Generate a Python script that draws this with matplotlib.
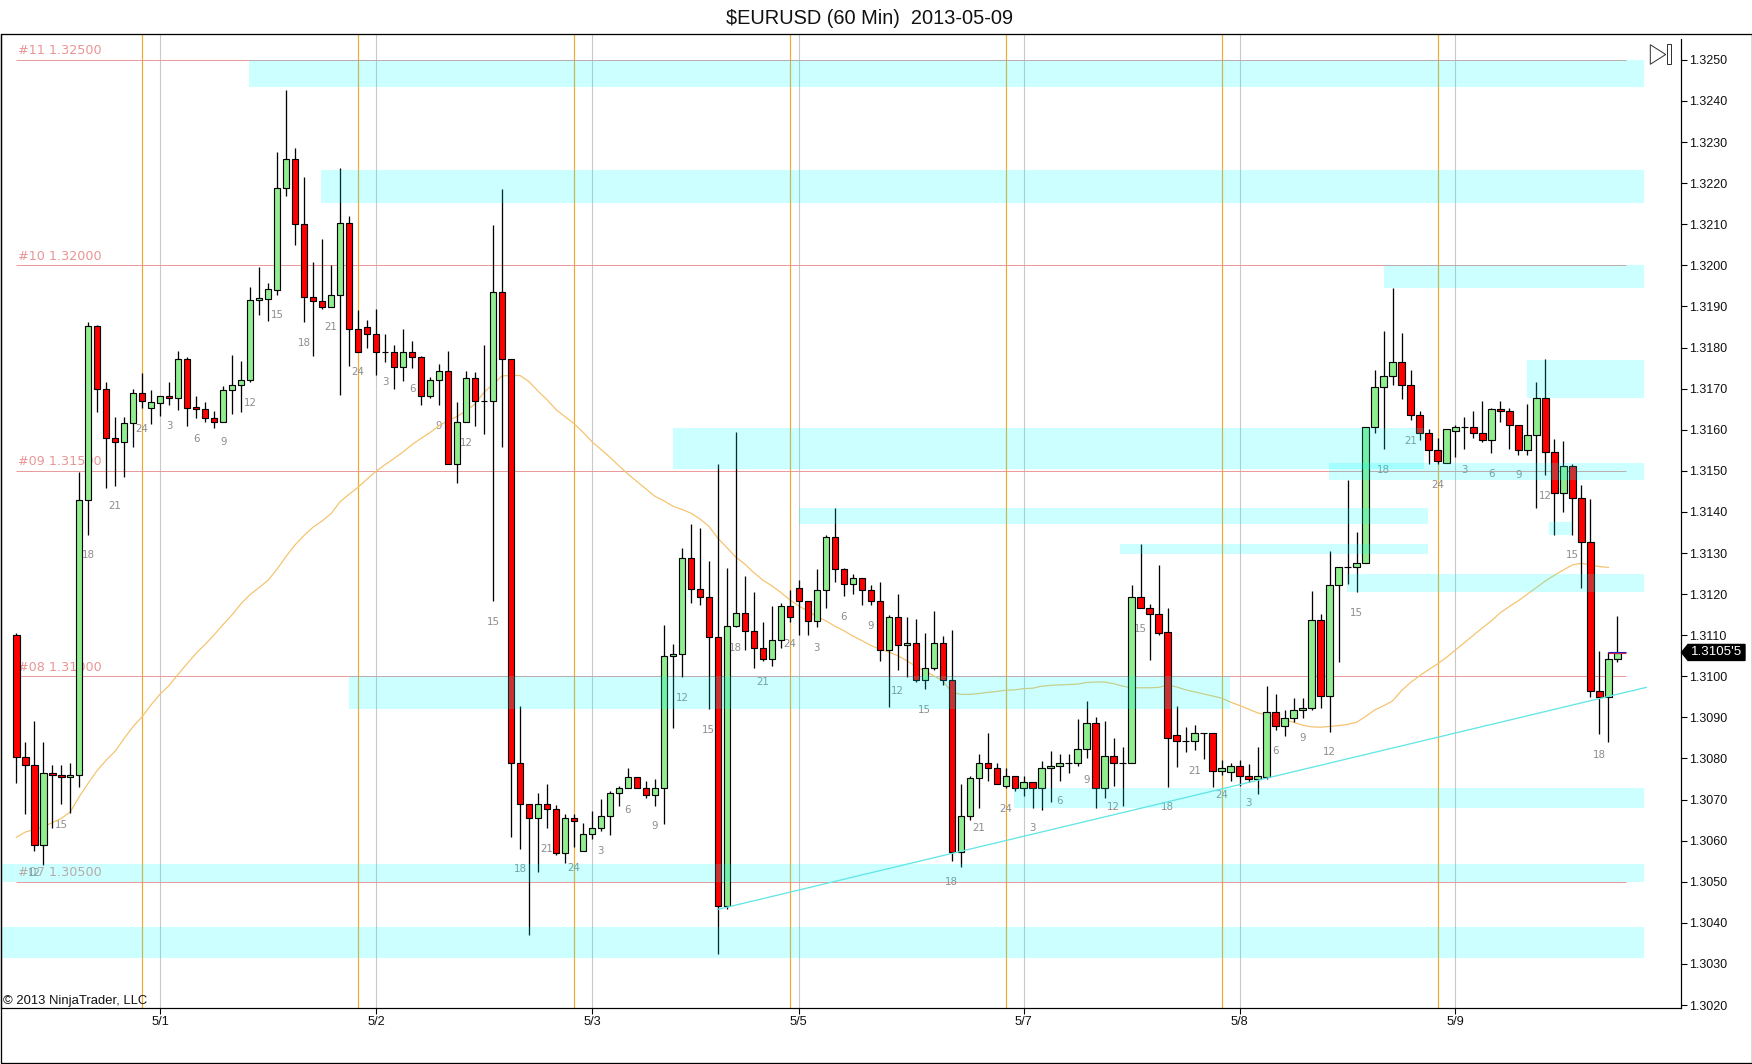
"""
$EURUSD 60 min candle chart, NinjaTrader look.
All prices are kept as pips above 1.3000 and converted with to_price().
"""

import numpy as np
import matplotlib
matplotlib.use("Agg")
import matplotlib.pyplot as plt
from matplotlib.patches import Polygon, Rectangle
from matplotlib.transforms import blended_transform_factory

plt.rcParams["font.family"] = ["Liberation Sans", "DejaVu Sans"]

# ─────────────────────────────────────────────
# DATA
# ─────────────────────────────────────────────
opens = [
    110.1, 80.4, 78.4, 58.9, 76.5, 76.1, 75.6, 76, 143, 185.2,
    170, 158.1, 157, 161.6, 169, 165.4, 166.6, 168.1, 167.6, 177.1,
    165.5, 165, 162.9, 162, 169.6, 171, 172, 191.5, 191.9, 194.1,
    218.9, 226, 210, 192.4, 191.4, 189.9, 192.9, 210.4, 184.6, 185.1,
    183.4, 179, 179, 175.2, 179, 177.6, 168.1, 172, 174.4, 151.6,
    162, 172.5, 167.1, 167.1, 193.4, 177.1, 79, 69, 65.6, 69,
    67.6, 57, 65.6, 57.5, 61.5, 63.2, 66.1, 71.5, 72.7, 75.6,
    72.7, 71, 72.7, 105, 105.5, 128.7, 121.2, 119.2, 109.6, 44.1,
    112.2, 115.5, 111.1, 107, 104.1, 108.9, 117, 121.6, 118.4, 113.5,
    121.1, 134, 126, 122.5, 124, 121.1, 118.4, 106.5, 114.5, 107.5,
    108, 99, 102.1, 108, 99, 57.2, 66.1, 75.2, 79, 77.6,
    73.2, 75.7, 72.7, 74.2, 72.7, 77.6, 78.1, 79, 79, 82.2,
    88.6, 72.7, 80.5, 79, 79, 119.2, 116.5, 115.1, 110.7, 85.6,
    84.2, 84.2, 86.1, 86.1, 77, 76.6, 78.1, 75.7, 75.1, 75.6,
    91.2, 88, 89.9, 91.7, 92.2, 113.6, 95.1, 122.1, 126.5, 126.5,
    127.5, 160.6, 170.5, 173, 176.6, 171, 163.5, 159.1, 155, 152,
    159.6, 160.6, 160.6, 159.1, 157.6, 165, 164.5, 161.1, 155, 158.6,
    167.6, 154.5, 144.5, 151.1, 143.5, 132.6, 96.5, 95, 104.1,
]
highs = [
    110.5, 84.1, 89, 84.1, 78.5, 78.5, 78.9, 149.7, 186.2, 185.6,
    171.5, 163, 163, 170, 173.7, 169.7, 168.1, 171.6, 179.2, 177.6,
    168.1, 166.7, 164.5, 170.7, 178.2, 176.7, 194.8, 199.6, 195.6, 227.5,
    242.6, 228.5, 221.4, 200.9, 206.5, 200, 223.6, 211.9, 189.2, 186.6,
    189.5, 183.4, 180.6, 184.6, 181.6, 178, 172.9, 176.1, 179.1, 166.7,
    174.4, 174, 180.6, 209.9, 218.7, 177.1, 92.7, 69, 71.5, 73.7,
    68.6, 66.6, 66.6, 64.3, 67.1, 70.1, 72.2, 73.2, 77.6, 75.6,
    74.6, 75.1, 112.5, 107.9, 131.1, 137, 136.1, 128, 151.6, 126.4,
    159.5, 124.5, 120.6, 113.1, 117, 117.9, 121.1, 123.5, 118.4, 126,
    134.5, 141, 126.4, 125, 124, 122.1, 123, 115, 120.1, 114.5,
    114, 110.6, 116, 109.7, 111.3, 73.7, 75.7, 81, 86.2, 79,
    77.6, 75.7, 75.7, 74.2, 79.5, 81.8, 81, 81, 89.6, 94.1,
    90, 89, 85.1, 82.7, 122.2, 132.1, 117.5, 127, 116.5, 92.7,
    87.7, 88.1, 86.1, 86.1, 79.6, 79, 79.6, 78.7, 82.8, 97.6,
    95.6, 91.9, 94.6, 94.6, 120.7, 115.1, 130.6, 126.5, 147.7, 135,
    160.6, 174.5, 184, 194.6, 183.5, 174.5, 164.5, 160.1, 158.1, 160.1,
    161.1, 163, 164.5, 167.1, 165.4, 167.1, 165.4, 161.1, 166.2, 171.5,
    177.2, 157.7, 157.2, 151.6, 146.5, 143.1, 106.1, 106, 114.6,
]
lows = [
    74, 66.6, 57.6, 54.1, 63, 68.9, 66.8, 73, 134.5, 164.3,
    145.8, 146.4, 148.4, 155.8, 165.3, 161.5, 163.3, 166, 164.8, 161,
    162.8, 162, 160.4, 162, 163.8, 164.3, 171.6, 187.9, 186.5, 192.9,
    216.9, 205, 186.1, 178, 189.3, 189.9, 168.4, 175.5, 179, 179.9,
    173.3, 176.5, 169.9, 171.9, 175.1, 166.1, 167.6, 166.1, 151.6, 147.1,
    162, 161, 159, 118.4, 155.9, 60.9, 58, 37.1, 52.4, 63.1,
    56.6, 54.6, 58.5, 57.5, 60.4, 62.4, 61.4, 68.5, 72.7, 72.7,
    70.4, 68.5, 64.1, 87.5, 99.9, 117.8, 117.3, 92, 32.4, 43.3,
    112, 106.4, 102, 103.6, 102.5, 106.9, 113.1, 110.1, 110.1, 112.1,
    116.5, 123, 119.6, 120.1, 117.4, 117.4, 103.6, 92.6, 101.6, 99.9,
    98.5, 97, 101.6, 98, 55.1, 53.7, 65.1, 68, 74.6, 73.7,
    72.7, 72.2, 70.8, 68, 67.5, 69.5, 74.5, 76.5, 78.1, 80,
    68, 70.5, 73.2, 68.5, 79, 116.5, 104, 110, 73.1, 77.9,
    81.5, 82.1, 79.9, 73.1, 76, 74.5, 73.4, 74.2, 71.4, 75.1,
    87, 85.5, 88.8, 89.9, 91.7, 92.2, 86.5, 103.5, 122.4, 120.6,
    127.5, 159.1, 155.3, 171, 167.5, 162.4, 157.4, 151.6, 151.6, 152,
    153.3, 155.3, 158.1, 157.1, 154.3, 162, 155.3, 153.8, 153.8, 141,
    149, 134.4, 140, 134.4, 121.5, 95, 86, 84, 103.5,
]
closes = [
    80.4, 78.4, 58.9, 76.5, 76, 75.6, 76.1, 143, 185.2, 170,
    158.1, 157, 161.6, 169, 167.1, 166.7, 168.1, 167.6, 177.1, 165.4,
    165, 162.9, 162, 169.6, 171, 172, 191.5, 192, 194.2, 218.9,
    226, 210, 192.4, 191.4, 189.9, 192.9, 210.4, 184.6, 179, 183.4,
    179, 179, 175.2, 179, 177.6, 168.1, 172, 174.4, 151.6, 162,
    172.5, 167, 167.1, 193.4, 177.1, 79, 69, 65.6, 69, 67.6,
    57, 65.6, 64.7, 61.5, 63.2, 66.1, 71.5, 72.7, 75.6, 72.7,
    71, 72.7, 105, 105.5, 128.7, 121.2, 119.2, 109.6, 44.1, 112.2,
    115.5, 111.1, 107, 104.1, 108.9, 117, 114.5, 118.4, 113.5, 121.1,
    134, 126, 122.5, 124, 121.1, 118.4, 106.5, 114.5, 107.5, 108,
    99, 102.1, 108, 99, 57.2, 66.1, 75.2, 79, 77.6, 73.7,
    75.7, 72.7, 74.2, 72.7, 77.6, 78.1, 79, 79, 82.2, 88.6,
    72.7, 80.5, 79, 79, 119.2, 116.5, 115.1, 110.5, 85.1, 84.2,
    84.2, 86.1, 86.1, 77, 77.6, 78.1, 75.7, 75.1, 75.7, 91.2,
    88, 89.8, 91.7, 92.2, 113.6, 95.1, 122.1, 126.5, 126.5, 127.5,
    160.6, 170.5, 173, 176.6, 171, 163.5, 159.1, 155, 152.5, 160.1,
    160.6, 160.6, 159.1, 157.6, 165, 164.5, 161.1, 155, 158.6, 167.6,
    154.5, 144.5, 151.1, 143.5, 132.6, 96.5, 95, 104.1, 105.6,
]

# moving average, one value per bar from the first bar on
ema = [
    60.8, 62.1, 62.7, 63.3, 64.4, 65.4, 67, 70.7, 74, 77.1,
    79.6, 81.8, 84.9, 87.8, 90.2, 93.1, 95.7, 97.8, 100.5, 103.1,
    105.6, 107.8, 110.1, 112.6, 115, 117.7, 119.9, 121.6, 123.4, 126.1,
    129.2, 132, 134.3, 136.3, 137.8, 139.6, 142.5, 144.3, 146, 148,
    149.9, 151.5, 153, 154.6, 156.4, 157.9, 159.3, 161, 162.2, 163.2,
    164.6, 166.3, 169.1, 171.1, 173.1, 173.2, 173.2, 171.7, 169.4, 167.3,
    164.9, 163.2, 161.5, 159.4, 157.1, 155.2, 153.3, 151.2, 149.2, 147.4,
    145.6, 143.8, 142.7, 141.4, 140.6, 139.7, 138.3, 136.5, 133.6, 131.3,
    129, 127.3, 125.2, 123.4, 122, 120.4, 118.6, 117.1, 115.9, 114.5,
    113.5, 112.2, 111.1, 109.8, 108.7, 107.5, 106.6, 105.9, 105, 103.8,
    102.4, 101.3, 100.1, 98.9, 96.1, 95.6, 95.6, 95.8, 96.1, 96.3,
    96.6, 96.7, 97, 97.1, 97.6, 97.8, 97.9, 98, 98.1, 98.5,
    98.6, 98.6, 98.2, 97.6, 97.2, 97.2, 97.2, 97.3, 97.9, 97.4,
    96.7, 96.2, 95.7, 95.2, 94.7, 93.7, 92.9, 92, 91.1, 90.6,
    90.1, 89.4, 88.8, 88.1, 87.7, 87.6, 87.8, 88, 88.3, 88.8,
    90.2, 91.8, 92.8, 94, 96.5, 98.5, 100.1, 101.6, 103, 104.6,
    106.4, 108.2, 110, 111.8, 113.5, 115.5, 117, 118.4, 120, 121.6,
    123.2, 124.6, 125.9, 127.1, 127.5, 127.1, 126.7, 126.5,
]

# cyan zones: start bar, end bar, top, bottom
zone_start  = [25.86, 33.9, 152.07, 167.97, 72.97, 145.97, 87, 122.73, 170.4, 147.9, 37, 110.96, -1.7, -1.7]
zone_end    = [180.96, 180.96, 180.96, 180.96, 156.5, 180.96, 156.9, 156.9, 172.9, 180.96, 134.97, 180.96, 180.96, 180.96]
zone_top    = [250, 223.2, 200, 177, 160.3, 151.9, 141, 132.1, 137.5, 124.9, 100, 72.7, 54.4, 39]
zone_bottom = [243.5, 215.1, 194.4, 167.7, 150.4, 147.8, 137, 129.7, 134.5, 120.6, 92.1, 68, 50, 31.5]

level_names  = ["#11 1.32500", "#10 1.32000", "#09 1.31500", "#08 1.31000", "#07 1.30500"]
level_prices = [250, 200, 150, 100, 50]

session_bars = [14, 38, 62, 86, 110, 134, 158]
day_bars     = [16, 40, 64, 87, 112, 136, 160]
day_labels   = ["5/1", "5/2", "5/3", "5/5", "5/7", "5/8", "5/9"]

hour_bars = [
    2, 5, 8, 11, 14, 17, 20, 23, 26, 29, 32, 35, 38, 41, 44, 47, 50, 53, 56, 59,
    62, 65, 68, 71, 74, 77, 80, 83, 86, 89, 92, 95, 98, 101, 104, 107, 110, 113,
    116, 119, 122, 125, 128, 131, 134, 137, 140, 143, 146, 149, 152, 155, 158,
    161, 164, 167, 170, 173, 176,
]
hour_texts = [
    "12", "15", "18", "21", "24", "3", "6", "9", "12", "15", "18", "21", "24", "3", "6", "9", "12", "15", "18", "21",
    "24", "3", "6", "9", "12", "15", "18", "21", "24", "3", "6", "9", "12", "15", "18", "21", "24", "3",
    "6", "9", "12", "15", "18", "21", "24", "3", "6", "9", "12", "15", "18", "21", "24",
    "3", "6", "9", "12", "15", "18",
]
hour_prices = [
    52.1, 63.9, 129.4, 141.4, 160.2, 161, 157.8, 157, 166.4, 187.9, 181, 184.9, 174, 171.5, 170, 161, 156.8, 113.3, 53, 58,
    53.4, 57.4, 67.5, 63.5, 94.8, 87, 107, 98.5, 107.9, 107, 114.5, 112.3, 96.4, 91.8, 50, 63, 67.6, 63,
    69.6, 74.8, 68.1, 111.4, 68.1, 77, 71, 69.1, 81.9, 84.9, 81.5, 115.5, 150.3, 157.3, 146.5,
    150.3, 149.2, 148.9, 143.9, 129.4, 80.9,
]

trend_bars   = [78, 79, 181.2]
trend_prices = [43.3, 43.8, 97.3]

last_price = 105.8

# ─────────────────────────────────────────────
# LAYOUT (image is 1752 x 1064, everything below in pixels)
# ─────────────────────────────────────────────
W, H = 1752, 1064
PX = 0.72  # one pixel in points at dpi 100
BASE = 1.3


def to_price(pips):
    return BASE + np.asarray(pips, dtype=float) / 10000


def fx(x):
    return x / W


def fy(y):
    return 1 - y / H


fig = plt.figure(figsize=(W / 100, H / 100), dpi=100, facecolor="white")
ax = fig.add_axes([fx(1), fy(1007.5), fx(1680), (1007.5 - 34) / H])
ax.set_xlim(-1.7, 185.07)
ax.set_ylim(to_price(19.4), to_price(256.3))

# ─────────────────────────────────────────────
# BACKGROUND LINES
# ─────────────────────────────────────────────
ax.vlines(day_bars, *ax.get_ylim(), color="#C8C8C8", lw=1.1 * PX, zorder=1)
ax.vlines(session_bars, *ax.get_ylim(), color="#F0A830", lw=1.2 * PX, zorder=1.1)
ax.hlines(to_price(level_prices), 0, 179, color="#E89090", lw=0.9 * PX, zorder=1.2)

for name, lev in zip(level_names, level_prices):
    ax.text(0.2, to_price(lev + 2.2), name, family="DejaVu Sans", fontsize=9.2,
            color="#E89595", va="center", ha="left", zorder=1.3)

for bar, txt, p in zip(hour_bars, hour_texts, hour_prices):
    ax.text(bar, to_price(p), txt, family="DejaVu Sans", fontsize=7.4, color="#8C8C8C",
            va="center", ha="center", zorder=1.3)

ax.plot(np.arange(len(ema)), to_price(ema), color="#F5C26B", lw=1.2 * PX, zorder=1.5)
ax.plot(trend_bars, to_price(trend_prices), color="#62E6E6", lw=1.3 * PX, zorder=3.5)

# ─────────────────────────────────────────────
# CANDLES
# ─────────────────────────────────────────────
bars = np.arange(len(opens))
o = to_price(opens)
c = to_price(closes)
body_colors = ["#90EE90" if cl >= op else "#FF0000" for op, cl in zip(opens, closes)]

ax.vlines(bars, to_price(lows), to_price(highs), color="black", lw=1.3 * PX, zorder=2)
ax.bar(bars, np.abs(c - o), bottom=np.minimum(o, c), width=0.72, color=body_colors,
       edgecolor="black", linewidth=1.15 * PX, zorder=2.5)

# last bar close markers
ax.hlines(to_price(106), 177, 179, color="#2020C0", lw=1.1 * PX, zorder=3)
ax.hlines(to_price(105.6), 177, 179, color="#D02050", lw=1.1 * PX, zorder=3)

# ─────────────────────────────────────────────
# ZONES (translucent, sit over the candles)
# ─────────────────────────────────────────────
for x0, x1, top, bot in zip(zone_start, zone_end, zone_top, zone_bottom):
    ax.bar(x0, to_price(top) - to_price(bot), bottom=to_price(bot), width=x1 - x0,
           align="edge", color="#00FFFF", alpha=0.2, linewidth=0, zorder=3)

# ─────────────────────────────────────────────
# AXES
# ─────────────────────────────────────────────
ax.spines["top"].set_visible(False)
ax.spines["left"].set_linewidth(1.2 * PX)
ax.spines["right"].set_linewidth(1.2 * PX)
ax.spines["bottom"].set_linewidth(1.2 * PX)
ax.spines["right"].set_bounds(to_price(19.4), to_price(255.1))

ax.yaxis.tick_right()
yticks = np.arange(20, 251, 10)
ax.set_yticks(to_price(yticks))
ax.set_yticklabels([f"{t:.4f}" for t in to_price(yticks)], fontsize=9, color="#111111")
ax.tick_params(axis="y", length=6 * PX, width=1.1 * PX, pad=2 * PX)
ax.set_xticks(day_bars)
ax.set_xticklabels(day_labels, fontsize=9.2, color="#111111")
ax.tick_params(axis="x", length=6 * PX, width=1.1 * PX, pad=2.5 * PX)

# ─────────────────────────────────────────────
# TITLE, FRAME, ICON, PRICE FLAG
# ─────────────────────────────────────────────
fig.text(fx(870), fy(18), "$EURUSD (60 Min)  2013-05-09", fontsize=14.4, ha="center",
         va="center", color="#111111", parse_math=False)
fig.text(fx(3), fy(1004), "\u00a9 2013 NinjaTrader, LLC", fontsize=9.4, ha="left",
         va="baseline", color="#111111")

fig.add_artist(Rectangle((fx(0.5), fy(1062.5)), fx(1751), (1062.5 - 34) / H, fill=False,
                         edgecolor="black", lw=1.3 * PX, transform=fig.transFigure))

# go-to-end icon
fig.add_artist(Polygon([(fx(1650.3), fy(44.7)), (fx(1650.3), fy(64.3)), (fx(1665.7), fy(54.5))],
                       closed=True, fill=False, edgecolor="#333333", lw=1 * PX,
                       transform=fig.transFigure))
fig.add_artist(Rectangle((fx(1667), fy(64)), fx(3.7), 20 / H, fill=False, edgecolor="#333333",
                         lw=1 * PX, transform=fig.transFigure))

# current price flag, x in figure pixels, y on the price scale
tr = blended_transform_factory(fig.transFigure, ax.transData)
half = 8 / 4.109  # 8 px in pips
flag_y = [last_price, last_price + half, last_price + half, last_price - half, last_price - half]
flag_x = [1681.5, 1688, 1745, 1745, 1688]
flag = Polygon(np.column_stack([[fx(v) for v in flag_x], to_price(flag_y)]), closed=True,
               facecolor="black", edgecolor="black", transform=tr, clip_on=False, zorder=5)
ax.add_patch(flag)
ax.text(fx(1716.5), to_price(last_price), "1.3105'5", transform=tr, color="white", fontsize=9.6,
        ha="center", va="center", clip_on=False, zorder=6)

fig.savefig("out.png", dpi=100)
plt.close(fig)
